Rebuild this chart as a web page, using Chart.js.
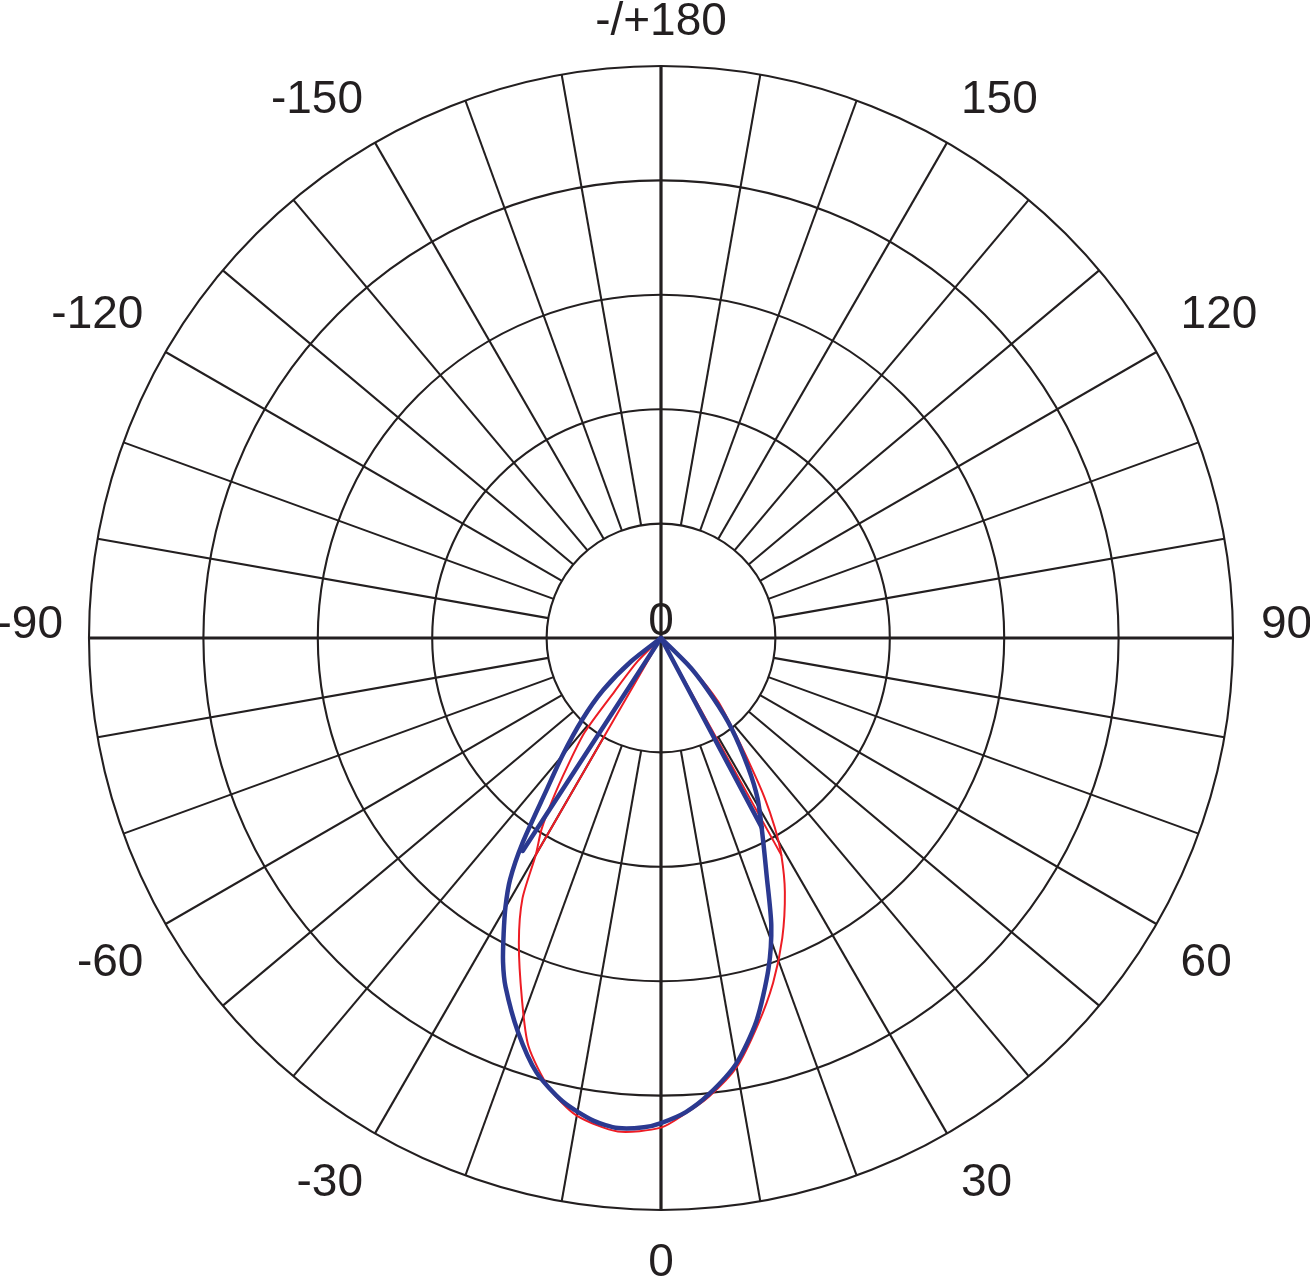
<!DOCTYPE html>
<html>
<head>
<meta charset="utf-8">
<title>Polar intensity diagram</title>
<script src="https://cdn.jsdelivr.net/npm/chart.js@4.4.1/dist/chart.umd.min.js"></script>
<style>
  html, body { margin: 0; padding: 0; background: #fff; }
  #wrap { width: 1310px; height: 1277px; position: relative; }
</style>
</head>
<body>
<div id="wrap"><canvas id="chart"></canvas></div>
<script>
// Red curve: gamma angle (deg) and intensity
const redAngles = [-47, -45, -41, -39, -36, -34, -32, -30, -28, -25, -21, -18, -14, -10, -5, 0,
                   3, 6, 10, 14, 18, 22, 26, 29, 31, 33, 35, 38, 42, 45, 47];
const redValues = [0, 29, 62, 106, 140, 168, 197, 219, 258, 294, 339, 375, 405, 424, 433, 428,
                   416, 403, 381, 349, 317, 283, 247, 217, 193, 166, 137, 104, 74, 41, 0];

// Blue curve
const blueAngles = [-55, -52, -48, -44, -40, -37, -34, -32, -30, -28, -26, -24, -20, -16, -12, -8, -5, -2, 0,
                    3, 6, 10, 14, 18, 21, 24, 27, 31, 34, 38, 41, 45, 48];
const blueValues = [0, 33, 68, 99, 134, 166, 217, 249, 272, 293, 315, 334, 366, 395, 414, 426, 430, 428, 424,
                    415, 401, 378, 345, 304, 269, 227, 196, 164, 136, 100, 70, 37, 0];

// straight strokes from the centre out to the kinks of each curve
const redSpikeLeftAngles = [-31, -30];
const redSpikeLeftValues = [0, 219];
const redSpikeRightAngles = [30, 29];
const redSpikeRightValues = [0, 217];
const blueSpikeLeftAngles = [-32, -33];
const blueSpikeLeftValues = [0, 222];
const blueSpikeRightAngles = [29, 28];
const blueSpikeRightValues = [0, 188];

// rings and angle ticks
const ringMax = 500;
const ringStep = 100;
const spokeStep = 10;
const angleTickValues = [180, 150, 120, 90, 60, 30, 0, -30, -60, -90, -120, -150];
const angleTickLabels = ['-/+180', '150', '120', '90', '60', '30', '0', '-30', '-60', '-90', '-120', '-150'];
const centreLabel = '0';

const gridColor = '#231f20';
const textColor = '#231f20';
const redColor = '#ed1c24';
const blueColor = '#2b3990';
const labelFont = '46px "Liberation Sans", Arial, sans-serif';

// radar labels run clockwise from the bottom in 1 degree steps: 0, -1, ... -179, 180, 179 ... 1
const angleLabels = [];
for (let i = 0; i < 360; i++) {
  let a = -i;
  if (a <= -180) a += 360;
  angleLabels.push(String(a));
}

function indexOfAngle(a) {
  return ((-a % 360) + 360) % 360;
}

function toSeries(angles, values) {
  const data = new Array(360).fill(null);
  angles.forEach((a, k) => { data[indexOfAngle(a)] = values[k]; });
  return data;
}

function curve(label, angles, values, color, width, order, tension) {
  return {
    label: label,
    data: toSeries(angles, values),
    borderColor: color,
    borderWidth: width,
    borderJoinStyle: 'round',
    borderCapStyle: 'round',
    backgroundColor: 'transparent',
    fill: false,
    pointRadius: 0,
    pointHoverRadius: 0,
    spanGaps: true,
    tension: tension,
    order: order
  };
}

// spokes, axes and text drawn on the radial scale
const polarFrame = {
  id: 'polarFrame',
  beforeDatasetsDraw(chart) {
    const r = chart.scales.r;
    const ctx = chart.ctx;
    const inner = r.getDistanceFromCenterForValue(ringStep);
    const outer = r.getDistanceFromCenterForValue(ringMax);
    ctx.save();
    ctx.strokeStyle = gridColor;
    ctx.lineWidth = 2.1;
    for (let a = -180 + spokeStep; a <= 180; a += spokeStep) {
      if (a % 90 === 0) continue;
      const i = indexOfAngle(a);
      const p1 = r.getPointPosition(i, inner);
      const p2 = r.getPointPosition(i, outer);
      ctx.beginPath();
      ctx.moveTo(p1.x, p1.y);
      ctx.lineTo(p2.x, p2.y);
      ctx.stroke();
    }
    // the two main axes go right through the centre
    ctx.lineWidth = 3.2;
    [[0, 180], [90, -90]].forEach(pair => {
      const p1 = r.getPointPosition(indexOfAngle(pair[0]), outer);
      const p2 = r.getPointPosition(indexOfAngle(pair[1]), outer);
      ctx.beginPath();
      ctx.moveTo(p1.x, p1.y);
      ctx.lineTo(p2.x, p2.y);
      ctx.stroke();
    });
    ctx.restore();
  },
  afterDraw(chart) {
    const r = chart.scales.r;
    const ctx = chart.ctx;
    const cx = r.xCenter;
    const cy = r.yCenter;
    const capHeight = 33;
    const labelRadius = r.drawingArea + 28;
    ctx.save();
    ctx.font = labelFont;
    ctx.fillStyle = textColor;
    ctx.textBaseline = 'alphabetic';
    angleTickValues.forEach((a, k) => {
      const p = r.getPointPosition(indexOfAngle(a), labelRadius);
      const dx = p.x - cx;
      const dy = p.y - cy;
      const side = dx / labelRadius;
      ctx.textAlign = Math.abs(dx) < 1 ? 'center' : (dx > 0 ? 'left' : 'right');
      let y;
      if (dy < -1) {
        y = p.y - 3 - 9 * side * side;
      } else if (dy > 1) {
        y = p.y + capHeight + 5;
      } else {
        y = p.y;
      }
      ctx.fillText(angleTickLabels[k], p.x + (dx < -1 ? 2 : 0), y);
    });
    ctx.textAlign = 'center';
    ctx.fillText(centreLabel, cx, cy - 3);
    ctx.restore();
  }
};

new Chart(document.getElementById('chart'), {
  type: 'radar',
  data: {
    labels: angleLabels,
    datasets: [
      curve('C90-C270', blueAngles, blueValues, blueColor, 4.5, 0, 0.25),
      curve('C90-C270 left', blueSpikeLeftAngles, blueSpikeLeftValues, blueColor, 4.5, 0, 0),
      curve('C90-C270 right', blueSpikeRightAngles, blueSpikeRightValues, blueColor, 4.5, 0, 0),
      curve('C0-C180', redAngles, redValues, redColor, 2, 1, 0.25),
      curve('C0-C180 left', redSpikeLeftAngles, redSpikeLeftValues, redColor, 2, 1, 0),
      curve('C0-C180 right', redSpikeRightAngles, redSpikeRightValues, redColor, 2, 1, 0)
    ]
  },
  options: {
    responsive: true,
    maintainAspectRatio: false,
    animation: false,
    layout: { padding: { left: 89, right: 77, top: 66, bottom: 67 } },
    plugins: {
      legend: { display: false },
      tooltip: { enabled: false }
    },
    scales: {
      r: {
        min: 0,
        max: ringMax,
        startAngle: 180,
        ticks: { display: false, stepSize: ringStep },
        grid: { circular: true, color: gridColor, lineWidth: 2.1 },
        angleLines: { display: false },
        pointLabels: { display: false }
      }
    }
  },
  plugins: [polarFrame]
});
</script>
</body>
</html>
